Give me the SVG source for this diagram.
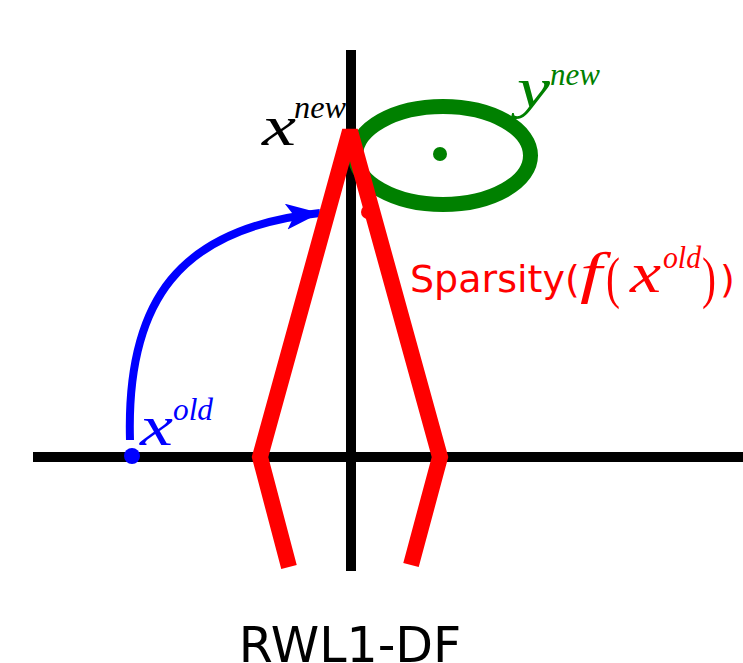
<svg xmlns="http://www.w3.org/2000/svg" width="743" height="663" viewBox="0 0 743 663">
<style>
.axis{stroke:#000;stroke-width:10;fill:none}
.math{font-family:"Liberation Serif","DejaVu Serif",serif;font-style:italic}
.big{font-size:56px}
.sup{font-size:32px}
.rm{font-family:"Liberation Serif","DejaVu Serif",serif;font-size:58px}
.sans{font-family:"DejaVu Sans","Liberation Sans",sans-serif}
</style>
<defs>
<marker id="ah" markerUnits="userSpaceOnUse" markerWidth="40" markerHeight="30" refX="34" refY="13" orient="auto">
<path d="M0,0 L34,13 L0,26 L8,13 Z" fill="#00f"/>
</marker>
</defs>
<rect width="743" height="663" fill="#fff"/>
<g id="axes">
<line class="axis" x1="33" y1="457" x2="743" y2="457"/>
<line class="axis" x1="351" y1="50" x2="351" y2="571"/>
</g>
<g id="ellipse">
<ellipse cx="443" cy="155.5" rx="87.5" ry="49" fill="none" stroke="#008000" stroke-width="15"/>
<circle cx="440" cy="154" r="7" fill="#008000"/>
</g>
<g id="connectors">
<path d="M130,440 C126,300 180,228 320,213" fill="none" stroke="#00f" stroke-width="8" marker-end="url(#ah)"/>
</g>
<g id="sparsity">
<polyline points="289,567 260,457 350,131 440,457 411,565" fill="none" stroke="#f00" stroke-width="16" stroke-linejoin="miter" stroke-miterlimit="2"/>
<circle cx="368" cy="212" r="7" fill="#f00"/>
</g>
<g id="xold">
<circle cx="132" cy="456" r="8" fill="#00f"/>
<text class="math big" x="140" y="445" fill="#00f" textLength="33" lengthAdjust="spacingAndGlyphs">x</text>
<text class="math sup" x="173" y="420" fill="#00f" textLength="40" lengthAdjust="spacingAndGlyphs">old</text>
</g>
<g id="xnew">
<text class="math big" x="262" y="145" fill="#000" textLength="34" lengthAdjust="spacingAndGlyphs">x</text>
<text class="math sup" x="294" y="118" fill="#000" textLength="52" lengthAdjust="spacingAndGlyphs">new</text>
</g>
<g id="ynew">
<text class="math big" x="517" y="107" fill="#008000" textLength="33" lengthAdjust="spacingAndGlyphs">y</text>
<text class="math sup" x="550" y="85" fill="#008000" textLength="50" lengthAdjust="spacingAndGlyphs">new</text>
</g>
<g id="label" fill="#f00">
<text class="sans" x="410" y="292" font-size="38">Sparsity(</text>
<text class="math big" x="580" y="292" textLength="22" lengthAdjust="spacingAndGlyphs">f</text>
<text class="rm" x="606" y="297" textLength="14" lengthAdjust="spacingAndGlyphs">(</text>
<text class="math big" x="630" y="292" textLength="31" lengthAdjust="spacingAndGlyphs">x</text>
<text class="math sup" x="663" y="268" textLength="38" lengthAdjust="spacingAndGlyphs">old</text>
<text class="rm" x="702" y="297" textLength="14" lengthAdjust="spacingAndGlyphs">)</text>
<text class="sans" x="720" y="292" font-size="38">)</text>
</g>
<g id="title">
<text class="sans" x="350" y="662" font-size="49" text-anchor="middle" fill="#000">RWL1-DF</text>
</g>
</svg>
